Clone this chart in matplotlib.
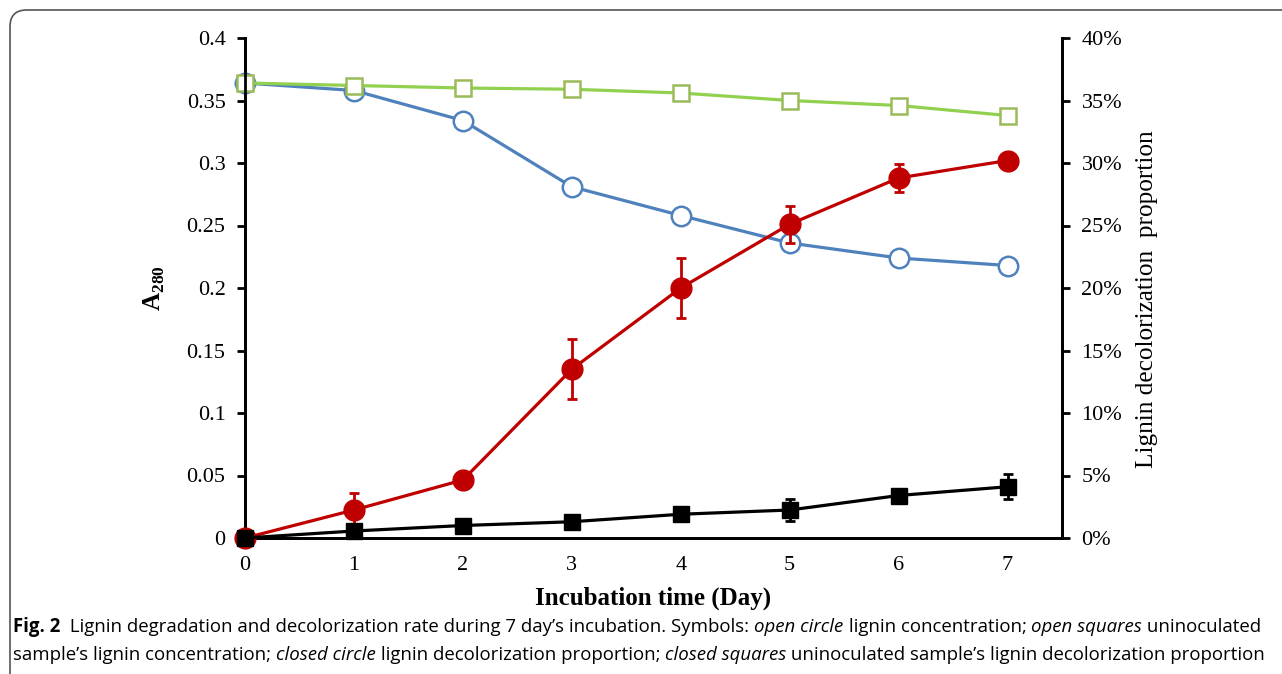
import numpy as np
import matplotlib
matplotlib.use("Agg")
import matplotlib.pyplot as plt
from matplotlib.patches import FancyBboxPatch

plt.rcParams["mathtext.fontset"] = "custom"
plt.rcParams["mathtext.bf"] = "Liberation Serif:bold"
plt.rcParams["mathtext.rm"] = "Liberation Serif"

# data
days = [0, 1, 2, 3, 4, 5, 6, 7]
a280_inoc = [0.364, 0.358, 0.334, 0.281, 0.258, 0.236, 0.224, 0.218]
a280_uninoc = [0.364, 0.362, 0.360, 0.359, 0.356, 0.350, 0.346, 0.338]
decol_inoc = [0.0, 2.24, 4.64, 13.5, 20.0, 25.1, 28.8, 30.2]
decol_inoc_err = [0.0, 1.4, 0.0, 2.4, 2.4, 1.5, 1.1, 0.0]
decol_uninoc = [0.0, 0.56, 1.0, 1.3, 1.9, 2.24, 3.4, 4.1]
decol_uninoc_err = [0.0, 0.0, 0.0, 0.0, 0.0, 0.85, 0.0, 1.0]

left_ticks = [0, 0.05, 0.1, 0.15, 0.2, 0.25, 0.3, 0.35, 0.4]
left_labels = ["0", "0.05", "0.1", "0.15", "0.2", "0.25", "0.3", "0.35", "0.4"]
right_ticks = [0, 5, 10, 15, 20, 25, 30, 35, 40]

serif = "Liberation Serif"
blue = "#4F81BD"
green = "#92D050"
green_edge = "#9BBB59"
red = "#C00000"

fig = plt.figure(figsize=(12.82, 6.74), dpi=100)
ax = fig.add_axes([245 / 1282, 1 - 538 / 674, (1062 - 245) / 1282, 500 / 674])
ax2 = ax.twinx()

ax.plot(days, a280_inoc, color=blue, lw=2.3, marker="o", ms=14, mfc="white",
        mec=blue, mew=1.8, zorder=3, clip_on=False)
ax.plot(days, a280_uninoc, color=green, lw=2.3, marker="s", ms=11, mfc="white",
        mec=green_edge, mew=1.8, zorder=4, clip_on=False)

ax2.errorbar(days, decol_inoc, yerr=decol_inoc_err, color=red, lw=2.3, marker="o",
             ms=15, mfc=red, mec=red, ecolor=red, elinewidth=2, capsize=3.5,
             capthick=2, zorder=3, clip_on=False)
ax2.errorbar(days, decol_uninoc, yerr=decol_uninoc_err, color="black", lw=2.3,
             marker="s", ms=11.5, mfc="black", mec="black", ecolor="black",
             elinewidth=2, capsize=3.5, capthick=2, zorder=4, clip_on=False)

ax.set_xlim(0, 7.5)
ax.set_ylim(0, 0.4)
ax2.set_ylim(0, 40)
for a in (ax, ax2):
    a.spines["top"].set_visible(False)
    for s in a.spines.values():
        s.set_linewidth(2)
    a.patch.set_visible(False)

ax.set_xticks(days)
ax.set_xticklabels([str(d) for d in days], fontfamily=serif, fontsize=16)
ax.tick_params(axis="x", length=0, pad=13)
ax.set_yticks(left_ticks)
ax.set_yticklabels(left_labels, fontfamily=serif, fontsize=16)
ax.tick_params(axis="y", direction="out", length=6, width=2, pad=8)
ax2.set_yticks(right_ticks)
ax2.set_yticklabels([f"{t}%" for t in right_ticks], fontfamily=serif, fontsize=16)
ax2.tick_params(axis="y", direction="out", length=6, width=2, pad=8)

ax.set_xlabel("Incubation time (Day)", fontfamily=serif, fontsize=18,
              fontweight="bold", labelpad=8)
ax.set_ylabel(r"A$_{\mathbf{280}}$", fontfamily=serif, fontsize=18,
              fontweight="bold", labelpad=14)
ax2.set_ylabel("Lignin decolorization  proportion", fontfamily=serif,
               fontsize=18.2, labelpad=10)
ax2.yaxis.label.set_y(0.478)

# rounded frame around figure + caption
frame = FancyBboxPatch((10 / 1282, -0.05), 1.2, 1.05 - 10 / 674,
                       boxstyle="round,pad=0,rounding_size=0.013",
                       transform=fig.transFigure, fill=False,
                       edgecolor="#555555", lw=1.2, mutation_aspect=1282 / 674)
fig.add_artist(frame)

cap_font = "Open Sans"
cap_size = 13.4
line1 = [("Fig. 2", "bold"), ("  Lignin degradation and decolorization rate during 7 day\u2019s incubation. Symbols: ", "normal"),
         ("open circle", "italic"), (" lignin concentration; ", "normal"),
         ("open squares", "italic"), (" uninoculated", "normal")]
line2 = [("sample\u2019s lignin concentration; ", "normal"), ("closed circle", "italic"),
         (" lignin decolorization proportion; ", "normal"), ("closed squares", "italic"),
         (" uninoculated sample\u2019s lignin decolorization proportion", "normal")]

renderer = fig.canvas.get_renderer()


def draw_line(pieces, y):
    x = 13 / 1282
    for txt, style in pieces:
        kw = dict(fontfamily=cap_font, fontsize=cap_size, va="center", ha="left")
        if style == "bold":
            kw["fontweight"] = "bold"
        elif style == "italic":
            kw["fontstyle"] = "italic"
        t = fig.text(x, y, txt, **kw)
        bb = t.get_window_extent(renderer=renderer)
        x += bb.width / fig.bbox.width


draw_line(line1, 1 - 627 / 674)
draw_line(line2, 1 - 655 / 674)

fig.savefig("out.png", dpi=100)
